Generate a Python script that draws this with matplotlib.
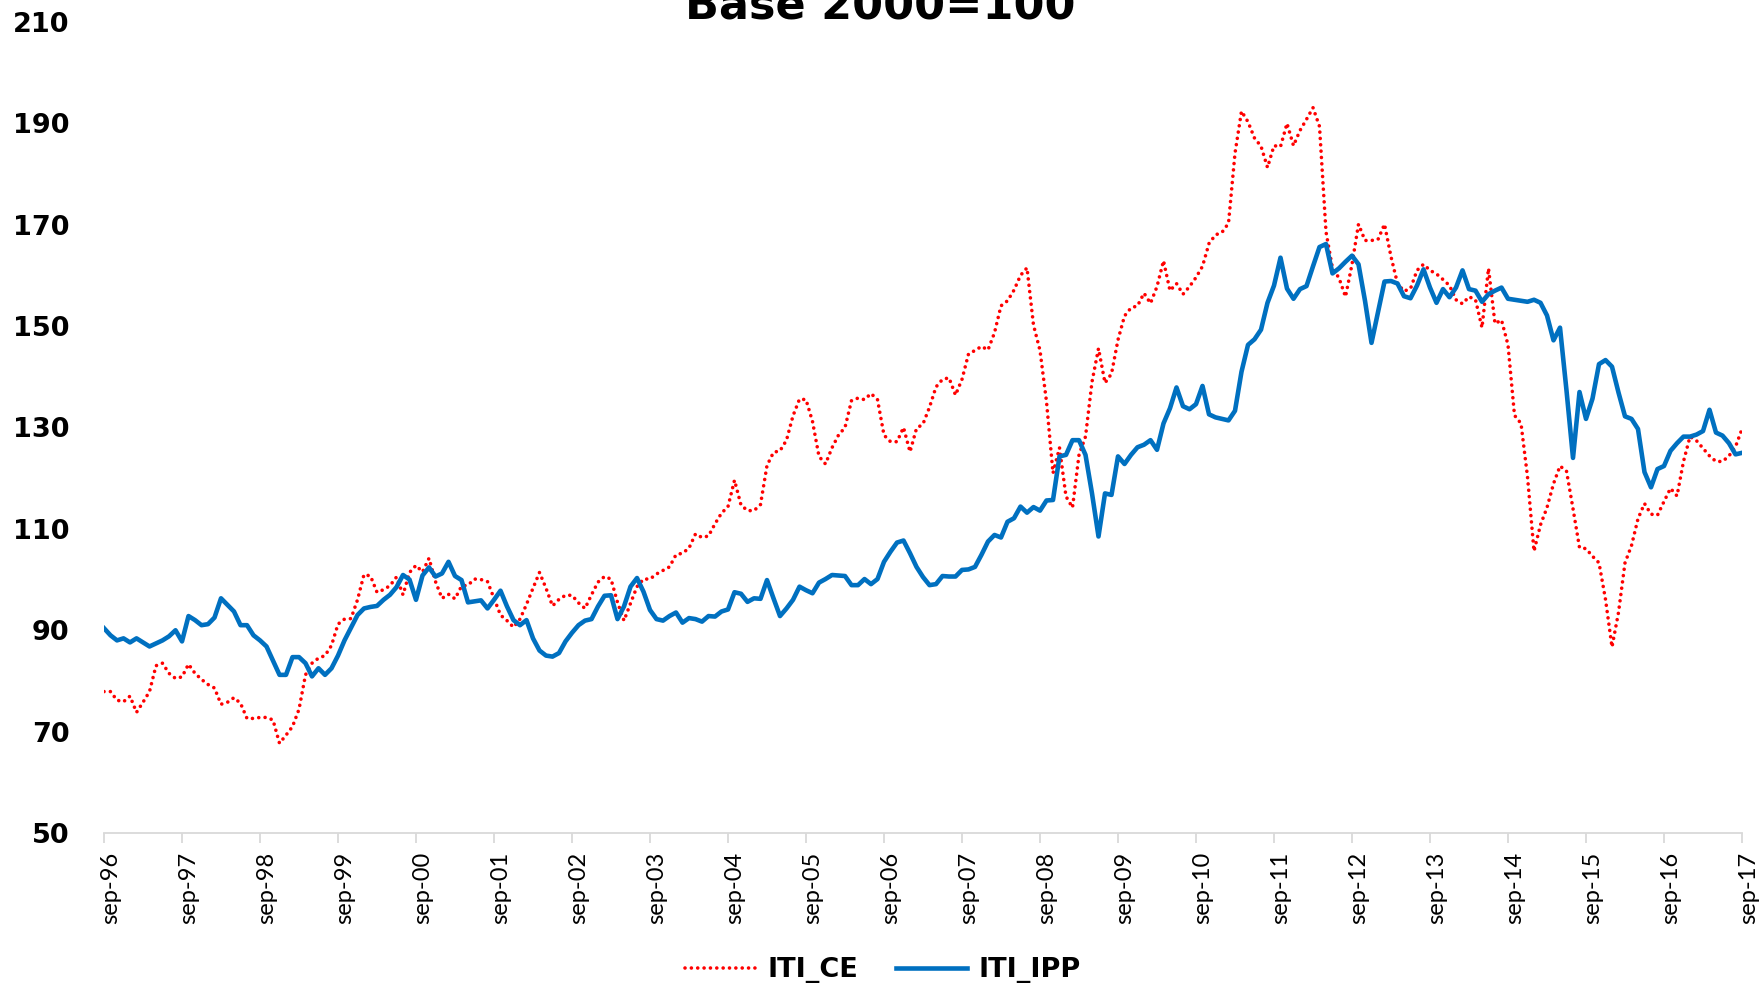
import numpy as np
import matplotlib
matplotlib.use("Agg")
import matplotlib.pyplot as plt
from matplotlib.lines import Line2D
import matplotlib.transforms as mtransforms

# ---------------- data (monthly, sep-96 .. sep-17) ----------------
tick_labels = ["sep-96", "sep-97", "sep-98", "sep-99", "sep-00", "sep-01", "sep-02",
               "sep-03", "sep-04", "sep-05", "sep-06", "sep-07", "sep-08", "sep-09",
               "sep-10", "sep-11", "sep-12", "sep-13", "sep-14", "sep-15", "sep-16",
               "sep-17"]

iti_ce = [
    77.9, 77.9, 76.2, 75.9, 77.0, 73.8, 75.8, 77.9, 83.0, 83.5, 81.5, 80.5,
    80.8, 83.3, 81.5, 80.3, 79.3, 78.6, 75.4, 75.8, 76.7, 75.6, 72.6, 72.6,
    72.8, 72.8, 72.3, 67.7, 69.3, 71.0, 74.4, 81.2, 83.5, 84.5, 85.0, 87.0,
    91.2, 92.2, 92.3, 96.0, 101.0, 100.7, 97.5, 98.0, 98.8, 100.5, 97.0, 101.4,
    102.8, 101.5, 104.2, 99.6, 96.3, 97.1, 96.2, 98.7, 98.9, 100.1, 100.0, 99.6,
    96.3, 93.0, 91.9, 90.6, 92.2, 95.1, 98.3, 101.4, 98.3, 94.8, 96.1, 96.9,
    96.9, 95.4, 94.3, 97.0, 99.5, 100.6, 100.1, 95.5, 91.9, 95.3, 98.6, 100.1,
    100.1, 101.1, 101.8, 102.5, 104.9, 105.2, 106.2, 109.0, 108.3, 108.6, 111.0, 113.1,
    114.4, 119.6, 114.7, 113.6, 113.6, 114.8, 122.5, 125.1, 125.4, 127.5, 132.3, 135.6,
    135.5, 131.2, 124.3, 122.8, 126.0, 128.5, 130.0, 135.3, 135.8, 135.5, 136.7, 135.5,
    128.5, 127.2, 127.2, 130.0, 125.2, 129.8, 130.7, 134.0, 138.0, 139.5, 139.8, 136.4,
    139.5, 144.5, 145.2, 146.0, 145.3, 148.7, 154.0, 155.0, 157.1, 160.0, 161.5, 150.2,
    145.2, 135.1, 121.0, 126.0, 116.4, 114.2, 124.6, 128.2, 139.0, 145.6, 138.8, 140.6,
    147.3, 152.0, 153.6, 154.0, 156.5, 154.5, 157.8, 162.9, 157.0, 158.4, 156.3, 157.8,
    159.6, 161.8, 166.3, 168.0, 168.5, 170.3, 184.1, 192.4, 190.3, 187.1, 185.5, 181.3,
    185.6, 185.4, 190.0, 185.6, 188.6, 190.8, 193.1, 189.4, 168.6, 161.4, 159.5, 155.8,
    162.2, 170.1, 166.9, 166.9, 167.1, 170.1, 163.7, 158.4, 156.9, 157.4, 161.0, 162.2,
    161.0, 160.3, 159.2, 158.0, 155.2, 154.4, 155.8, 155.2, 149.7, 161.4, 150.5, 151.2,
    146.3, 132.4, 130.8, 120.3, 105.6, 110.8, 114.2, 118.9, 122.4, 121.4, 114.0, 106.3,
    106.1, 104.6, 103.3, 96.1, 86.7, 93.5, 103.3, 106.7, 112.0, 115.0, 112.9, 112.7,
    115.4, 118.0, 116.5, 123.3, 128.2, 127.4, 125.9, 124.4, 123.3, 123.3, 124.4, 126.2,
    129.7,
]

iti_ipp = [
    90.4, 89.0, 88.0, 88.4, 87.6, 88.4, 87.6, 86.8, 87.4, 88.0, 88.8, 90.0,
    87.8, 92.8, 92.0, 91.0, 91.2, 92.5, 96.3, 95.0, 93.7, 91.0, 91.0, 89.0,
    88.0, 86.8, 84.0, 81.2, 81.2, 84.7, 84.7, 83.5, 80.9, 82.5, 81.2, 82.5,
    85.0, 88.0, 90.5, 93.0, 94.3, 94.6, 94.8, 96.0, 97.0, 98.5, 100.9, 100.0,
    96.0, 100.8, 102.4, 100.6, 101.2, 103.5, 100.7, 99.9, 95.5, 95.7, 95.9, 94.3,
    96.0, 97.8, 94.7, 92.0, 91.0, 92.0, 88.4, 86.0, 85.0, 84.8, 85.5, 87.8,
    89.5, 91.0, 91.9, 92.2, 94.7, 96.8, 96.9, 92.2, 94.7, 98.6, 100.3, 97.6,
    94.0, 92.2, 91.9, 92.8, 93.5, 91.5, 92.4, 92.2, 91.7, 92.8, 92.7, 93.7,
    94.1, 97.5, 97.2, 95.6, 96.3, 96.2, 99.9, 96.3, 92.8, 94.3, 96.0, 98.6,
    97.9, 97.3, 99.4, 100.1, 100.9, 100.8, 100.7, 98.9, 98.9, 100.1, 99.1, 100.1,
    103.5, 105.5, 107.3, 107.7, 105.2, 102.5, 100.5, 98.9, 99.1, 100.7, 100.6, 100.6,
    101.9, 102.0, 102.5, 104.9, 107.5, 108.8, 108.3, 111.4, 112.1, 114.4, 113.2, 114.3,
    113.6, 115.6, 115.7, 124.3, 124.6, 127.5, 127.5, 124.6, 117.0, 108.5, 117.0, 116.7,
    124.3, 122.8, 124.6, 126.1, 126.6, 127.5, 125.6, 130.8, 133.8, 137.9, 134.2, 133.6,
    134.6, 138.2, 132.6, 132.0, 131.7, 131.4, 133.3, 141.0, 146.3, 147.4, 149.3, 154.6,
    158.0, 163.5, 157.4, 155.4, 157.3, 157.9, 161.8, 165.6, 166.2, 160.4, 161.4, 162.7,
    163.9, 162.2, 155.0, 146.7, 152.7, 158.8, 158.9, 158.4, 155.9, 155.5, 158.0, 161.2,
    157.6, 154.6, 157.3, 155.7, 157.6, 161.0, 157.3, 157.0, 154.8, 156.3, 157.0, 157.6,
    155.4, 155.2, 155.0, 154.8, 155.2, 154.6, 152.1, 147.2, 149.7, 137.3, 124.0, 137.0,
    131.7, 135.7, 142.5, 143.3, 142.0, 136.9, 132.2, 131.7, 129.7, 121.2, 118.2, 121.8,
    122.4, 125.4, 126.9, 128.2, 128.2, 128.6, 129.3, 133.5, 129.0, 128.4, 126.9, 124.7,
    125.0,
]

y_ticks = [50, 70, 90, 110, 130, 150, 170, 190, 210]
title_text = "Base 2000=100"
series_names = ["ITI_CE", "ITI_IPP"]

# ---------------- figure ----------------
W, H, DPI = 1761, 984, 100
fig = plt.figure(figsize=(W / DPI, H / DPI), dpi=DPI)
ax = fig.add_axes([104 / W, 1 - 833 / H, (1742 - 104) / W, (833 - 22) / H])

x = np.arange(len(iti_ce))
red = "#FF0000"
blue = "#0070C0"
red_ls = (0, (0.01, 1.75))

ax.plot(x, iti_ipp, color=blue, lw=3.3, solid_joinstyle="round", zorder=3)
ax.plot(x, iti_ce, color=red, lw=2.6, linestyle=red_ls,
        dash_capstyle="round", zorder=2)

ax.set_xlim(0, len(iti_ce) - 1)
ax.set_ylim(y_ticks[0], y_ticks[-1])
ax.set_yticks(y_ticks)
ax.set_yticklabels([str(v) for v in y_ticks], fontsize=19.5, fontweight="bold",
                   family="DejaVu Sans")
ax.set_xticks(np.arange(0, len(iti_ce), 12))
ax.set_xticklabels(tick_labels, rotation=90, fontsize=17, family="Lato")

for s in ["top", "right", "left"]:
    ax.spines[s].set_visible(False)
ax.spines["bottom"].set_color("#d9d9d9")
ax.spines["bottom"].set_linewidth(1.3)

ax.tick_params(axis="y", length=0, pad=25)
ax.tick_params(axis="x", length=7.5, width=1.3, color="#d9d9d9", pad=6)

offset = mtransforms.ScaledTranslation(7 / DPI, 0, fig.dpi_scale_trans)
for lab in ax.get_xticklabels():
    lab.set_transform(lab.get_transform() + offset)
    lab.set_va("top")
    lab.set_ha("center")

# title (partly clipped at the top, as in the reference)
fig.text(880 / W, 1 - 20 / H, title_text, ha="center", va="baseline",
         fontsize=32, fontweight="bold", family="DejaVu Sans")

handles = [
    Line2D([], [], color=red, lw=2.6, linestyle=red_ls, dash_capstyle="round"),
    Line2D([], [], color=blue, lw=3.3),
]
fig.legend(handles, series_names, loc="center", bbox_to_anchor=(883 / W, 1 - 970 / H),
           ncol=2, frameon=False, prop={"family": "DejaVu Sans", "weight": "bold", "size": 19.5},
           handlelength=2.6, handletextpad=0.45, columnspacing=1.4)

fig.savefig("out.png", dpi=DPI)
